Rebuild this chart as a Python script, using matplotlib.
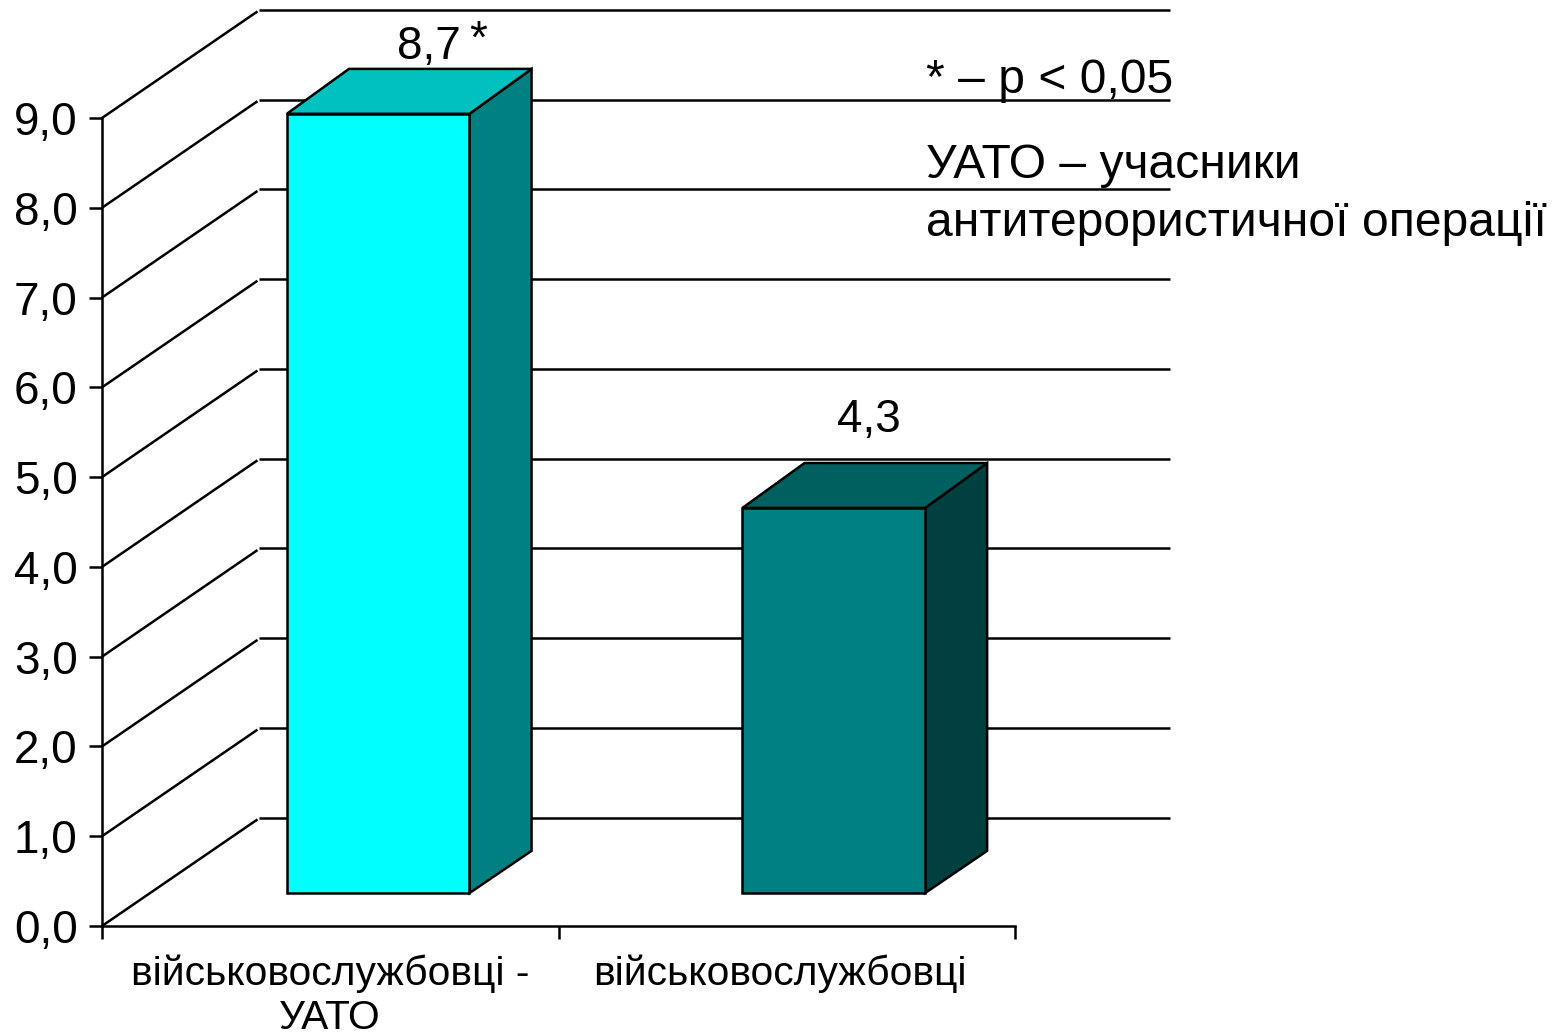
import matplotlib
matplotlib.use('Agg')
import matplotlib.pyplot as plt
from matplotlib.patches import Polygon

plt.rcParams['font.family'] = ['Liberation Sans', 'DejaVu Sans']

groups = ['військовослужбовці -\nУАТО', 'військовослужбовці']
values = [8.68, 4.29]
value_labels = ['8,7', '4,3']
yticks = [0, 1, 2, 3, 4, 5, 6, 7, 8, 9]
ytick_labels = ['0,0', '1,0', '2,0', '3,0', '4,0', '5,0', '6,0', '7,0', '8,0', '9,0']
front_colors = ['#00FFFF', '#008080']
top_colors = ['#00C0C0', '#006060']
side_colors = ['#008080', '#004040']

W, H = 1554, 1032
LW = 1.8

fig = plt.figure(figsize=(W/100, H/100), dpi=100)
ax = fig.add_axes([102/W, 1-926/H, (1015-102)/W, (926-118)/H])
ax.set_xlim(0, 2)
ax.set_ylim(0, 9)
ax.patch.set_visible(False)

# oblique depth of the chart walls and of the bars, in data units
wall_dx, wall_dy = 0.344, 1.205
bar_dx, bar_dy, bar_dy_low = 0.136, 0.5, 0.47
off_dy = 0.367
bar_w = 0.4
bar_centers = [0.605, 1.603]
label_dx = [0.112, 0.077]
label_dy = [-0.003, 0.23]
group_x = [0.5, 1.485]

# wall lines and gridlines
for y in yticks:
    ax.plot([0, wall_dx*0.99], [y, y+wall_dy*0.985], color='k', lw=LW, clip_on=False, zorder=1, solid_capstyle='butt')
    ax.plot([wall_dx, 2+wall_dx-0.005], [y+wall_dy, y+wall_dy], color='k', lw=LW, clip_on=False, zorder=1, solid_capstyle='butt')

for i, v in enumerate(values):
    x0 = bar_centers[i] - bar_w/2
    x1 = x0 + bar_w
    y0 = off_dy
    y1 = off_dy + v
    kw = dict(edgecolor='k', lw=LW, clip_on=False, zorder=3, joinstyle='miter')
    ax.add_patch(Polygon([(x1, y0), (x1+bar_dx, y0+bar_dy_low), (x1+bar_dx, y1+bar_dy), (x1, y1)],
                         facecolor=side_colors[i], **kw))
    ax.add_patch(Polygon([(x0, y1), (x1, y1), (x1+bar_dx, y1+bar_dy), (x0+bar_dx, y1+bar_dy)],
                         facecolor=top_colors[i], **kw))
    ax.add_patch(Polygon([(x0, y0), (x1, y0), (x1, y1), (x0, y1)],
                         facecolor=front_colors[i], **kw))
    ax.text(bar_centers[i]+label_dx[i], y1+bar_dy+label_dy[i], value_labels[i], ha='center', va='bottom',
            fontsize=33, zorder=5, clip_on=False)

# star next to the first value
ax.text(bar_centers[0]+0.22, values[0]+off_dy+bar_dy+0.07, '*', ha='center', va='bottom',
        fontsize=33, zorder=5, clip_on=False)

for s in ['top', 'right']:
    ax.spines[s].set_visible(False)
for s in ['left', 'bottom']:
    ax.spines[s].set_linewidth(LW)

ax.set_yticks(yticks)
ax.set_yticklabels(ytick_labels, fontsize=33)
ax.set_xticks([0, 1, 2])
ax.set_xticklabels([])
ax.tick_params(axis='y', length=9.5, width=LW, pad=8)
ax.tick_params(axis='x', length=9.5, width=LW)

# category names sit between the ticks
for i, g in enumerate(groups):
    ax.text(group_x[i], -0.32, g, ha='center', va='top', fontsize=29.3, linespacing=1.2, clip_on=False)

# notes on the right
fig.text(926/W, 1-93/H, '* – p < 0,05', fontsize=34.6, va='baseline', ha='left', zorder=6)
fig.text(926/W, 1-178/H, 'УАТО – учасники', fontsize=34.6, va='baseline', ha='left', zorder=6)
fig.text(926/W, 1-236/H, 'антитерористичної операції', fontsize=34.6, va='baseline', ha='left', zorder=6)

plt.savefig('out.png', dpi=100)
